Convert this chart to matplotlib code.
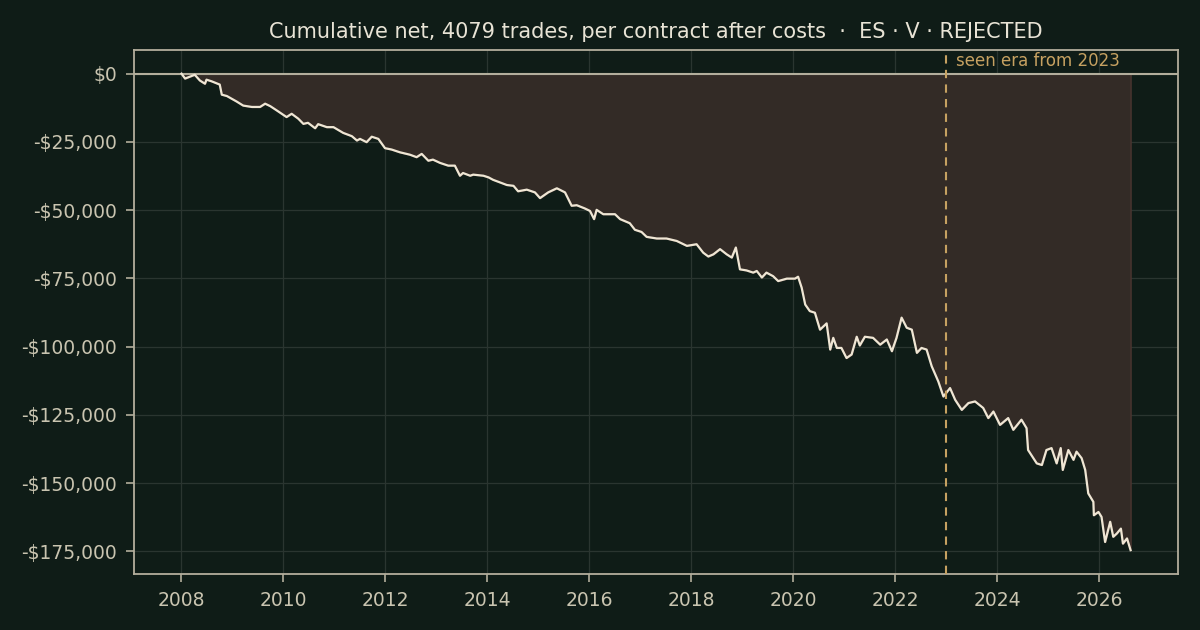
import matplotlib
matplotlib.use("Agg")
import matplotlib.pyplot as plt
import matplotlib.ticker as mticker
import matplotlib.transforms as mtrans

# ---- data ----
years = [2008.01, 2008.08, 2008.27, 2008.37, 2008.47, 2008.50, 2008.60, 2008.76, 2008.80, 2008.90,
         2009.09, 2009.22, 2009.39, 2009.55, 2009.65, 2009.75, 2009.88, 2010.07, 2010.17, 2010.30,
         2010.40, 2010.49, 2010.63, 2010.69, 2010.86, 2010.99, 2011.18, 2011.35, 2011.45, 2011.51,
         2011.64, 2011.74, 2011.87, 2012.00, 2012.13, 2012.29, 2012.49, 2012.62, 2012.72, 2012.85,
         2012.94, 2013.08, 2013.24, 2013.37, 2013.47, 2013.53, 2013.67, 2013.73, 2013.93, 2014.03,
         2014.12, 2014.25, 2014.39, 2014.52, 2014.61, 2014.78, 2014.94, 2015.04, 2015.20, 2015.37,
         2015.53, 2015.66, 2015.76, 2015.92, 2016.02, 2016.10, 2016.15, 2016.28, 2016.38, 2016.51,
         2016.61, 2016.80, 2016.90, 2017.03, 2017.13, 2017.33, 2017.52, 2017.72, 2017.92, 2018.11,
         2018.24, 2018.34, 2018.44, 2018.57, 2018.70, 2018.80, 2018.88, 2018.96, 2019.09, 2019.22,
         2019.29, 2019.39, 2019.48, 2019.61, 2019.71, 2019.88, 2020.04, 2020.10, 2020.17, 2020.24,
         2020.33, 2020.43, 2020.53, 2020.66, 2020.73, 2020.79, 2020.86, 2020.95, 2021.05, 2021.15,
         2021.25, 2021.31, 2021.41, 2021.57, 2021.71, 2021.84, 2021.94, 2022.03, 2022.13, 2022.23,
         2022.33, 2022.43, 2022.52, 2022.62, 2022.72, 2022.85, 2022.95, 2023.08, 2023.18, 2023.31,
         2023.44, 2023.57, 2023.73, 2023.83, 2023.93, 2024.06, 2024.22, 2024.32, 2024.48, 2024.58,
         2024.61, 2024.78, 2024.88, 2024.97, 2025.07, 2025.17, 2025.25, 2025.29, 2025.40, 2025.50,
         2025.56, 2025.66, 2025.73, 2025.79, 2025.89, 2025.90, 2025.99, 2026.05, 2026.12, 2026.22,
         2026.28, 2026.35, 2026.43, 2026.47, 2026.55, 2026.62]
cum_net = [0, -1800, -400, -2500, -3700, -2200, -2800, -4000, -7700, -8200,
           -10200, -11700, -12200, -12200, -11000, -11900, -13500, -15900, -14700, -16500,
           -18400, -18000, -20000, -18500, -19600, -19600, -21700, -22900, -24500, -23900,
           -25100, -23100, -23900, -27300, -27800, -28800, -29700, -30600, -29400, -31900,
           -31500, -32700, -33700, -33700, -37400, -36400, -37400, -37000, -37400, -38000,
           -38900, -39800, -40800, -41100, -43100, -42500, -43500, -45600, -43500, -42000,
           -43500, -48400, -48200, -49400, -50300, -53300, -49900, -51500, -51500, -51500,
           -53300, -54800, -57200, -58000, -59800, -60400, -60400, -61300, -63100, -62500,
           -65600, -67000, -66200, -64300, -66200, -67400, -63700, -71700, -72100, -72900,
           -72300, -74700, -72900, -74200, -76000, -75100, -75100, -74400, -78400, -84600,
           -87000, -87600, -93800, -91500, -101100, -96800, -100500, -100500, -104200, -102900,
           -96400, -99600, -96400, -96800, -99300, -97400, -101700, -96800, -89400, -93100,
           -93800, -102300, -100500, -101100, -107200, -112800, -118300, -115200, -119500, -123200,
           -120700, -120100, -122500, -126200, -123800, -128700, -126200, -130500, -126800, -129900,
           -137900, -142800, -143400, -137900, -137200, -142800, -137200, -145200, -137900, -141500,
           -138500, -140900, -145200, -153800, -156900, -161800, -160600, -162400, -171600, -164200,
           -169700, -168500, -166700, -172200, -170300, -174600]
seen_from = 2023.0
n_trades = 4079
title = f"Cumulative net, {n_trades} trades, per contract after costs  \u00b7  ES \u00b7 V \u00b7 REJECTED"
seen_label = "seen era from 2023"

# ---- style ----
BG = "#0f1c17"
FILL = "#332b26"
LINE = "#efe6d4"
SPINE = "#b3ae9c"
TXT = "#c9c4b0"
TITLE = "#e8e3d5"
GRID = "#2a3530"
GOLD = "#c6a161"

plt.rcParams['font.family'] = ['DejaVu Sans']
fig = plt.figure(figsize=(12, 6.3), dpi=100, facecolor=BG)
ax = fig.add_axes([0.1117, 0.0889, 0.87, 0.832], facecolor=BG)

ax.fill_between(years, cum_net, 0, facecolor=FILL, edgecolor="#4a3530", linewidth=1.0, zorder=1)
ax.plot(years, cum_net, color=LINE, linewidth=1.6, zorder=3)
ax.axhline(0, color=SPINE, linewidth=1.5, zorder=2)
ax.axvline(seen_from, color=GOLD, linewidth=1.5, linestyle=(0, (4, 3)), zorder=4)

trans = mtrans.blended_transform_factory(ax.transData, ax.transAxes)
ax.text(seen_from + 0.2, 0.996, seen_label, transform=trans, color=GOLD,
        fontsize=12, va="top", ha="left", zorder=5)

ax.set_xticks(range(2008, 2027, 2))
ax.xaxis.set_major_formatter(mticker.FuncFormatter(lambda v, p: f"{int(v)}"))
ax.set_yticks(range(-175000, 1, 25000))
ax.yaxis.set_major_formatter(mticker.FuncFormatter(
    lambda v, p: f"-${abs(int(v)):,}" if v < 0 else f"${int(v):,}"))

ax.grid(True, color=GRID, linewidth=0.9, zorder=0)
ax.set_axisbelow(True)
for s in ax.spines.values():
    s.set_color(SPINE)
    s.set_linewidth(1.3)
ax.tick_params(colors=SPINE, labelcolor=TXT, labelsize=13.5, length=6, width=1.2, pad=6)

ax.set_title(title, color=TITLE, fontsize=15, pad=8.5)

fig.savefig("out.png", dpi=100, facecolor=BG)
